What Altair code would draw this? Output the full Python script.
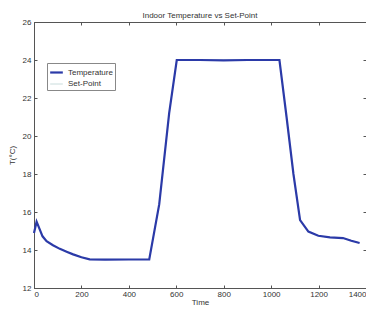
import altair as alt
import pandas as pd

time = [0, 11, 36, 53, 80, 109, 140, 165, 200, 235, 300, 400, 486, 528, 570, 602,
        700, 800, 900, 1000, 1035, 1065, 1094, 1122, 1157, 1199, 1248, 1303, 1338, 1373]
temperature = [14.89, 15.49, 14.72, 14.46, 14.25, 14.06, 13.9, 13.77, 13.62, 13.51, 13.49,
               13.5, 13.5, 16.4, 21.2, 24.0, 24.0, 23.98, 24.0, 24.0, 24.0, 21.0, 18.0,
               15.57, 14.97, 14.75, 14.66, 14.63, 14.49, 14.37]
sp_time = [0, 11, 36, 53, 109, 165, 235, 486, 528, 570, 602, 1035, 1094, 1122, 1157, 1199, 1248, 1303, 1373]
setpoint = [14.89, 15.49, 14.72, 14.46, 14.06, 13.77, 13.51, 13.5, 16.4, 21.2, 24.0, 24.0, 18.0,
            15.57, 14.97, 14.75, 14.66, 14.63, 14.37]

x_ticks = [0, 200, 400, 600, 800, 1000, 1200, 1400]
y_ticks = [12, 14, 16, 18, 20, 22, 24, 26]

df = pd.concat([
    pd.DataFrame({"Time": sp_time, "T": setpoint, "series": "Set-Point", "order": 0}),
    pd.DataFrame({"Time": time, "T": temperature, "series": "Temperature", "order": 1}),
])

font = "Liberation Sans"
W, H = 332, 266

xscale = alt.Scale(domain=[0, 1400], nice=False, zero=False)
yscale = alt.Scale(domain=[12, 26], nice=False, zero=False)

lines = alt.Chart(df).mark_line().encode(
    x=alt.X("Time:Q", scale=xscale, title="Time",
            axis=alt.Axis(values=x_ticks, format="d", tickSize=0, labelPadding=2, labelFontSize=8,
                          titleFontSize=8, titleFontWeight="normal", titlePadding=0,
                          labelColor="#333", titleColor="#333", domainColor="#555",
                          labelOverlap=False, labelBound=False, labelFlush=1,
                          grid=False, labelFont=font, titleFont=font)),
    y=alt.Y("T:Q", scale=yscale, title="T(°C)",
            axis=alt.Axis(values=y_ticks, format="d", tickSize=0, labelPadding=3, labelFontSize=8,
                          titleFontSize=8, titleFontWeight="normal", titlePadding=6,
                          labelColor="#333", titleColor="#333", domainColor="#555",
                          grid=False, labelFont=font, titleFont=font)),
    color=alt.Color("series:N",
                    scale=alt.Scale(domain=["Temperature", "Set-Point"], range=["#2b3aa8", "#c9dcdc"]),
                    legend=alt.Legend(title=None, orient="none", legendX=13, legendY=41,
                                      symbolType="stroke", symbolSize=160, labelFontSize=8,
                                      labelFont=font, labelColor="#333", strokeColor="#888",
                                      fillColor="white", padding=2, rowPadding=0,
                                      labelLimit=200, symbolStrokeWidth=2)),
    strokeWidth=alt.StrokeWidth("series:N",
                                scale=alt.Scale(domain=["Temperature", "Set-Point"], range=[2.2, 1]),
                                legend=None),
    order="order:Q",
    detail="series:N",
)


def tick_layer(x_orient, x_offset, y_orient, y_offset):
    return alt.Chart(df).mark_line(opacity=0).encode(
        x=alt.X("Time:Q", scale=xscale,
                axis=alt.Axis(orient=x_orient, offset=x_offset, values=x_ticks, labels=False,
                              title=None, tickSize=3, domain=False, tickColor="#555", grid=False)),
        y=alt.Y("T:Q", scale=yscale,
                axis=alt.Axis(orient=y_orient, offset=y_offset, values=y_ticks, labels=False,
                              title=None, tickSize=3, domain=False, tickColor="#555", grid=False)),
        detail="series:N",
    )


ticks_in = tick_layer("top", -H, "right", -W)
ticks_out = tick_layer("bottom", -H, "left", -W)

chart = alt.layer(lines, ticks_in, ticks_out).resolve_axis(x="independent", y="independent").properties(
    width=W, height=H,
    title=alt.TitleParams("Indoor Temperature vs Set-Point", fontSize=8, fontWeight="normal",
                          font=font, color="#333", offset=6, dy=8, anchor="middle"),
    autosize=alt.AutoSizeParams(type="none"),
    padding={"left": 26, "top": 14, "right": 0, "bottom": 17},
).configure_view(stroke="#555", strokeWidth=1)

chart.save("out.html", embed_options={"renderer": "svg", "actions": False})
